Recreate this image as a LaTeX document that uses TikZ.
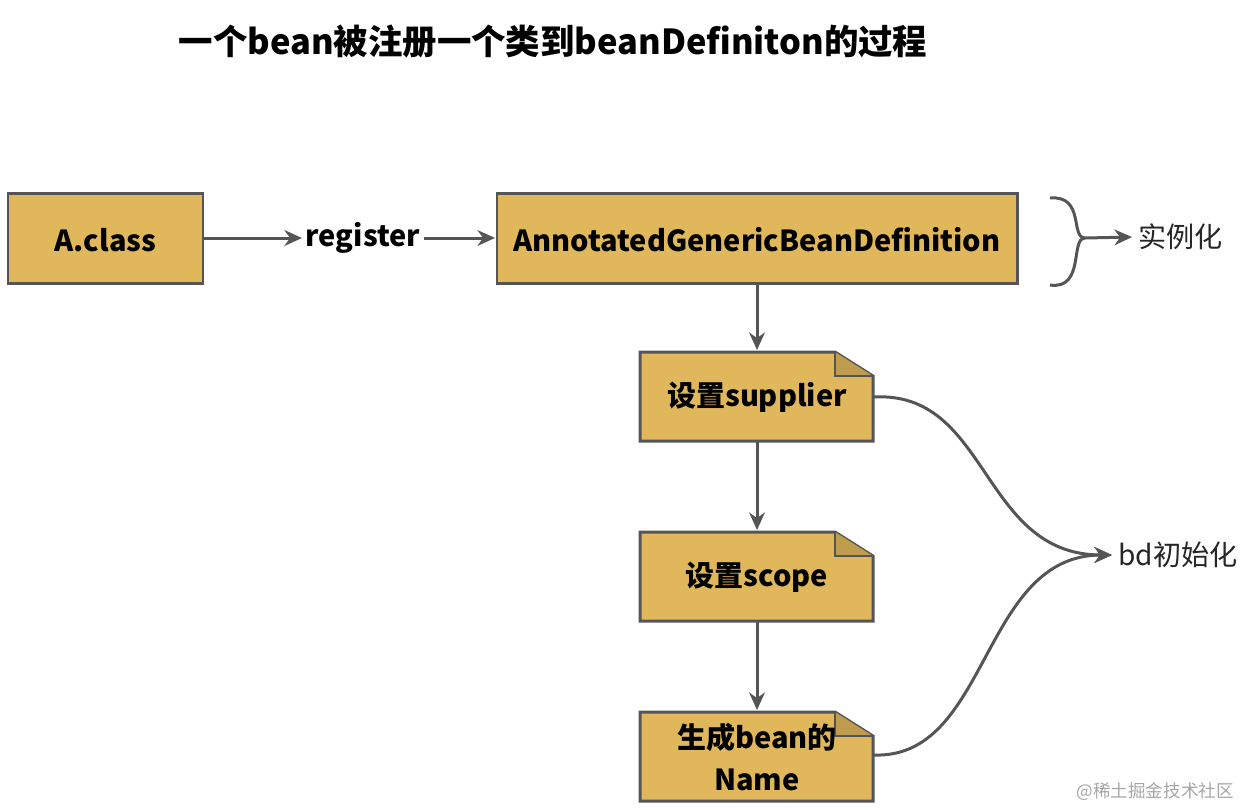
\documentclass[tikz,border=0pt]{standalone}
\usepackage{fontspec}
\setmainfont{Noto Sans CJK SC}
\usetikzlibrary{arrows.meta}
\definecolor{boxfill}{HTML}{E1B75C}
\definecolor{edge}{HTML}{555555}
\begin{document}
\begin{tikzpicture}[x=0.02cm,y=-0.02cm,
  box/.style={draw=edge,line width=1.7pt,fill=boxfill},
  arr/.style={draw=edge,line width=1.7pt,-{Stealth[length=10pt,width=9pt]}},
  lbl/.style={font=\fontsize{16.5}{20}\selectfont\bfseries},
  side/.style={font=\fontsize{16}{20}\selectfont,text=black!85}]
\useasboundingbox (0,0) rectangle (1251,809);
\node[font=\fontsize{19.6}{24}\selectfont\bfseries] (title) at (553,42) {一个bean被注册一个类到beanDefiniton的过程};
% boxes
\draw[box] (8,193) rectangle (203,283);
\node[lbl] (a) at (105.5,240) {A.class};
\node[lbl,inner sep=2pt] (reg) at (363,238) {register};
\draw[box] (497,193) rectangle (1017,283);
\node[lbl] (agbd) at (757,240) {AnnotatedGenericBeanDefinition};
\coordinate (aR) at (203,238); \coordinate (agL) at (495,238);
\draw[arr] (aR) -- (reg.west);
\draw[arr] (reg.east) -- (agL);
% notes
\foreach \y/\n in {352/s,532/c,712/m}{
  \draw[box] (640,\y) -- (835,\y) -- (873,\y+24) -- (873,\y+89) -- (640,\y+89) -- cycle;
  \draw[edge,line width=1.3pt,fill=boxfill!85!black] (835,\y) -- (835,\y+24) -- (873,\y+24);
}
\node[lbl] (sup) at (757,397) {设置supplier};
\node[lbl] (sco) at (757,577) {设置scope};
\node[lbl,align=center,font=\fontsize{16.5}{24}\selectfont\bfseries] (nam) at (757,757) {生成bean的\\Name};
\coordinate (agB) at (757,283); \coordinate (sT) at (757,350);
\coordinate (sB) at (757,441); \coordinate (cT) at (757,530);
\coordinate (cB) at (757,621); \coordinate (mT) at (757,710);
\draw[arr] (agB) -- (sT);
\draw[arr] (sB) -- (cT);
\draw[arr] (cB) -- (mT);
% brace
\node[side,anchor=west] (inst) at (1132,237) {实例化};
\coordinate (bt) at (1050,198); \coordinate (bb) at (1050,285); \coordinate (btip) at (1085,238);
\draw[edge,line width=1.7pt] (bt) .. controls (1085,195) and (1070,238) .. (btip);
\draw[edge,line width=1.7pt] (bb) .. controls (1085,290) and (1070,238) .. (btip);
\draw[arr] (btip) -- (inst.west);
% bd init
\node[side,anchor=west] (bd) at (1112,555) {bd初始化};
\coordinate (sR) at (873,397); \coordinate (mR) at (873,755);
\draw[arr] (sR) .. controls (990,390) and (980,555) .. (bd.west);
\draw[arr] (mR) .. controls (990,760) and (980,555) .. (bd.west);
\node[font=\fontsize{10}{12}\selectfont,text=black!35,anchor=east] (wm) at (1240,792) {@稀土掘金技术社区};
\end{tikzpicture}
\end{document}
